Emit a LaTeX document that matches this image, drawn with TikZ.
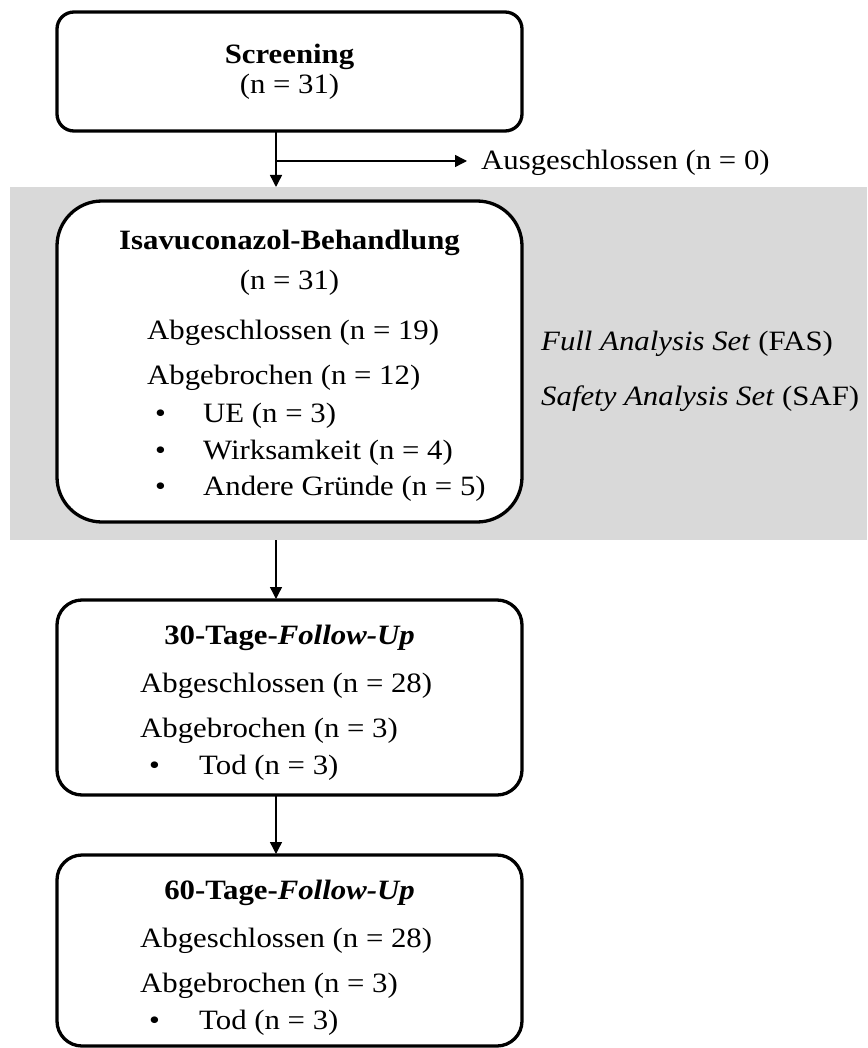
\documentclass[tikz,border=0pt]{standalone}
\usepackage{fontspec}
\setmainfont{Liberation Serif}[FakeStretch=1.1]
\usetikzlibrary{arrows.meta}
\definecolor{bandgray}{RGB}{217,217,217}
\tikzset{
  box/.style={draw=black, line width=3.3pt, fill=white, minimum width=465pt, inner sep=0pt},
  txt/.style={anchor=base west, inner sep=0pt, font=\fontsize{28}{33}\selectfont},
  ctxt/.style={anchor=base, inner sep=0pt, font=\fontsize{28}{33}\selectfont},
  conn/.style={line width=1.4pt, -{Triangle[length=12pt,width=12pt]}}
}
\begin{document}
\begin{tikzpicture}[x=1pt,y=-1pt]
\useasboundingbox (0,0) rectangle (867,1048);
% grey band
\fill[bandgray] (10,187) rectangle (867,540);

% boxes
\node[box, rounded corners=17pt, minimum height=119pt] (scr) at (289.5,71.5) {};
\node[box, rounded corners=45pt, minimum height=321pt] (isa) at (289.5,361.5) {};
\node[box, rounded corners=25pt, minimum height=195pt] (f30) at (289.5,697.5) {};
\node[box, rounded corners=25pt, minimum height=191pt] (f60) at (289.5,950.5) {};

% screening texts
\node[ctxt] (scrA) at (289.5,64) {\textbf{Screening}};
\node[ctxt] (scrB) at (289.5,94) {(n = 31)};

% excluded
\coordinate (s1) at (276,131);
\coordinate (s2) at (276,187);
\coordinate (b1) at (276,161);
\coordinate (b2) at (467,161);
\node[txt] (aus) at (481,170) {Ausgeschlossen (n = 0)};
\draw[conn] (s1) -- (s2);
\draw[conn] (b1) -- (b2);

% isavuconazol texts
\node[ctxt] (isaA) at (289.5,250) {\textbf{Isavuconazol-Behandlung}};
\node[ctxt] (isaB) at (289.5,290) {(n = 31)};
\node[txt] (isaC) at (147,339) {Abgeschlossen (n = 19)};
\node[txt] (isaD) at (147,384) {Abgebrochen (n = 12)};
\node[txt] (isaE1) at (155,422) {\textbullet};
\node[txt] (isaE) at (203,422) {UE (n = 3)};
\node[txt] (isaF1) at (155,459) {\textbullet};
\node[txt] (isaF) at (203,459) {Wirksamkeit (n = 4)};
\node[txt] (isaG1) at (155,495) {\textbullet};
\node[txt] (isaG) at (203,495) {Andere Gründe (n = 5)};

% analysis sets
\node[txt] (fas) at (541,350) {\textit{Full Analysis Set} (FAS)};
\node[txt] (saf) at (541,405) {\textit{Safety Analysis Set} (SAF)};

% arrows
\coordinate (g1) at (276,540);
\coordinate (g2) at (276,599);
\draw[conn] (g1) -- (g2);
\coordinate (h1) at (276,795);
\coordinate (h2) at (276,854);
\draw[conn] (h1) -- (h2);

% 30 days
\node[ctxt] (f30A) at (289.5,644) {\textbf{30-Tage-\textit{Follow-Up}}};
\node[txt] (f30B) at (140,692) {Abgeschlossen (n = 28)};
\node[txt] (f30C) at (140,737) {Abgebrochen (n = 3)};
\node[txt] (f30D1) at (149,774) {\textbullet};
\node[txt] (f30D) at (199,774) {Tod (n = 3)};

% 60 days
\node[ctxt] (f60A) at (289.5,899) {\textbf{60-Tage-\textit{Follow-Up}}};
\node[txt] (f60B) at (140,947) {Abgeschlossen (n = 28)};
\node[txt] (f60C) at (140,992) {Abgebrochen (n = 3)};
\node[txt] (f60D1) at (149,1029) {\textbullet};
\node[txt] (f60D) at (199,1029) {Tod (n = 3)};
\end{tikzpicture}
\end{document}
